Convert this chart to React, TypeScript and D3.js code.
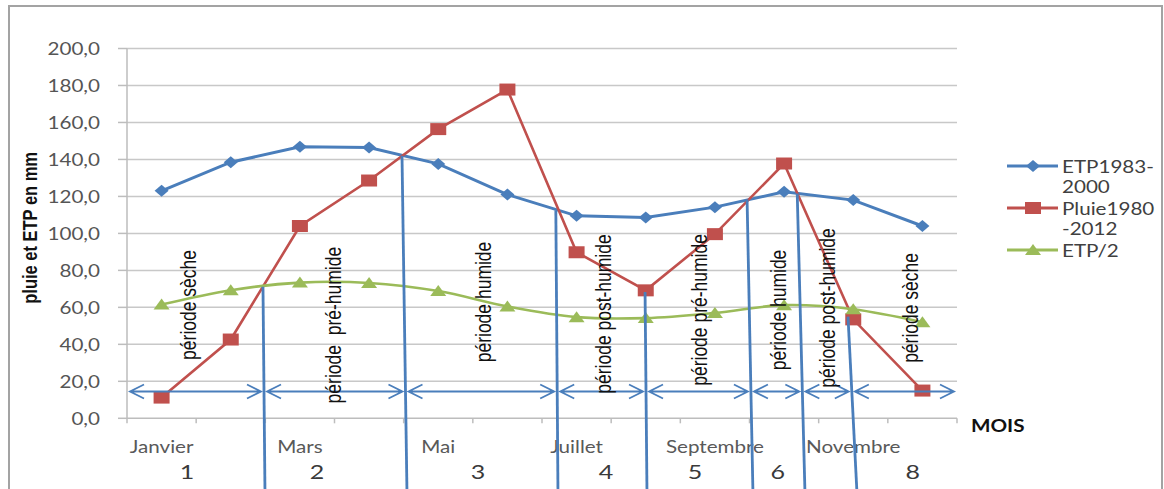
import React, { useRef, useEffect } from 'react';
import * as d3 from 'd3';

// ---------- data ----------
const months = ['Janvier', 'Février', 'Mars', 'Avril', 'Mai', 'Juin', 'Juillet', 'Août', 'Septembre', 'Octobre', 'Novembre', 'Décembre'];
const monthLabels = ['Janvier', '', 'Mars', '', 'Mai', '', 'Juillet', '', 'Septembre', '', 'Novembre', ''];

const etp = [123.0, 138.5, 146.8, 146.4, 137.6, 121.0, 109.5, 108.6, 114.2, 122.5, 118.0, 104.0];
const pluie = [11.2, 42.6, 104.0, 128.6, 156.4, 177.8, 89.8, 69.2, 99.6, 137.8, 53.5, 15.0];
const etpHalf = [61.5, 69.3, 73.4, 73.2, 68.8, 60.5, 54.7, 54.2, 57.0, 61.2, 59.0, 52.0];

const yTicks = [0, 20, 40, 60, 80, 100, 120, 140, 160, 180, 200];

// hand-drawn period dividers (month index, value where they start, month index at the bottom edge)
const dividerTopPos = [1.466, 3.476, 5.70, 6.99, 8.465, 9.19, 9.924];
const dividerTopValue = [71.2, 142.0, 112.4, 68.3, 118.3, 121.6, 55.0];
const dividerBottomPos = [1.495, 3.548, 5.731, 7.018, 8.55, 9.302, 10.054];
const arrowValue = 14.5;

const periodLabels = ['période sèche', 'période  pré-humide', 'période humide', 'période post-humide', 'période pré-humide', 'période humide', 'période post-humide', 'période sèche'];
const periodPos = [0.382, 2.478, 4.647, 6.38, 7.77, 8.91, 9.63, 10.82];
const periodMid = [61.3, 50.4, 62.9, 56.4, 58.6, 58.6, 59.7, 59.7];

const periodNumbers = ['1', '2', '3', '4', '5', '6', '8'];
const periodNumberPos = [0.367, 2.247, 4.574, 6.425, 7.712, 8.91, 10.86];

const legendLabels = [['ETP1983-', '2000'], ['Pluie1980', '-2012'], ['ETP/2']];

const BLUE = '#4A7EBB';
const RED = '#C0504D';
const GREEN = '#9BBB59';
const HFONT = 'Lato, "Open Sans", sans-serif';
const VFONT = '"Liberation Sans", Arial, sans-serif';
const SX = 1.25; // the reference is stretched horizontally

const App: React.FC = () => {
  const svgRef = useRef<SVGSVGElement>(null);

  useEffect(() => {
    if (!svgRef.current) return;
    const svg = d3.select(svgRef.current);
    svg.selectAll('*').remove();

    const W = 1164;
    const H = 489;
    const plot = { left: 127, right: 957, top: 48.5, bottom: 418.3 };

    const x = d3.scaleLinear().domain([-0.5, months.length - 0.5]).range([plot.left, plot.right]);
    const y = d3.scaleLinear().domain([0, 200]).range([plot.bottom, plot.top]);

    const hText = (
      g: d3.Selection<any, unknown, null, undefined>,
      tx: number,
      ty: number,
      txt: string,
      size: number,
      fill: string,
      anchor = 'middle',
      weight = 'normal'
    ) =>
      g
        .append('text')
        .attr('transform', `translate(${tx},${ty}) scale(${SX},1)`)
        .attr('text-anchor', anchor)
        .style('font-family', HFONT)
        .style('font-size', `${size}px`)
        .style('font-weight', weight)
        .attr('fill', fill)
        .text(txt);

    // rotated text, stretched across the glyphs like the reference
    const vText = (tx: number, ty: number, txt: string, size: number, weight = 'normal') =>
      svg
        .append('text')
        .attr('transform', `translate(${tx},${ty}) scale(${SX},1) rotate(-90)`)
        .attr('text-anchor', 'middle')
        .attr('dominant-baseline', 'central')
        .style('white-space', 'pre')
        .style('font-family', VFONT)
        .style('font-size', `${size}px`)
        .style('font-weight', weight)
        .attr('fill', '#111')
        .text(txt);

    /* ---------- frame ---------- */
    svg.append('rect').attr('width', W).attr('height', H).attr('fill', '#fff');
    svg
      .append('rect')
      .attr('x', 9)
      .attr('y', 6)
      .attr('width', 1153)
      .attr('height', 520)
      .attr('fill', '#fff')
      .attr('stroke', '#a3a3a3')
      .attr('stroke-width', 2);

    /* ---------- grid + axes ---------- */
    const grid = svg.append('g');
    grid
      .selectAll('line.grid')
      .data(yTicks.filter(t => t > 0))
      .enter()
      .append('line')
      .attr('x1', plot.left)
      .attr('x2', plot.right)
      .attr('y1', d => y(d))
      .attr('y2', d => y(d))
      .attr('stroke', '#c8c8c8')
      .attr('stroke-width', 1.5);

    grid
      .selectAll('line.ytick')
      .data(yTicks)
      .enter()
      .append('line')
      .attr('x1', plot.left - 9)
      .attr('x2', plot.left)
      .attr('y1', d => y(d))
      .attr('y2', d => y(d))
      .attr('stroke', '#bdbdbd')
      .attr('stroke-width', 1.5);

    grid
      .append('line')
      .attr('x1', plot.left)
      .attr('x2', plot.left)
      .attr('y1', y(200))
      .attr('y2', y(0))
      .attr('stroke', '#bdbdbd')
      .attr('stroke-width', 1.5);
    grid
      .append('line')
      .attr('x1', plot.left)
      .attr('x2', plot.right)
      .attr('y1', y(0))
      .attr('y2', y(0))
      .attr('stroke', '#bdbdbd')
      .attr('stroke-width', 1.5);

    grid
      .selectAll('line.xtick')
      .data(d3.range(months.length + 1))
      .enter()
      .append('line')
      .attr('x1', d => x(d - 0.5))
      .attr('x2', d => x(d - 0.5))
      .attr('y1', y(0))
      .attr('y2', y(0) + 5)
      .attr('stroke', '#bdbdbd')
      .attr('stroke-width', 1.5);

    const fmt = d3.format('.1f');
    yTicks.forEach(t => hText(svg, 100, y(t) + 6.5, fmt(t).replace('.', ','), 16.5, '#555', 'end'));

    monthLabels.forEach((m, i) => {
      if (m) hText(svg, x(i), 453, m, 16.5, '#595959');
    });

    periodNumbers.forEach((n, i) => hText(svg, x(periodNumberPos[i]), 479, n, 20, '#3a3a3a'));

    hText(svg, 971, 432, 'MOIS', 16.5, '#111', 'start', 'bold');

    vText(30, y(103), 'pluie et ETP en mm', 16.5, 'bold');

    /* ---------- series ---------- */
    const idx = d3.range(months.length);
    const straight = (vals: number[]) =>
      d3
        .line<number>()
        .x(i => x(i))
        .y(i => y(vals[i]))(idx);

    const seriesG = svg.append('g');
    seriesG
      .append('path')
      .attr('d', straight(etp))
      .attr('fill', 'none')
      .attr('stroke', BLUE)
      .attr('stroke-width', 3);
    seriesG
      .append('path')
      .attr('d', straight(pluie))
      .attr('fill', 'none')
      .attr('stroke', RED)
      .attr('stroke-width', 2.6);
    const smooth = d3
      .line<number>()
      .x(i => x(i))
      .y(i => y(etpHalf[i]))
      .curve(d3.curveCatmullRom.alpha(0.5));
    seriesG
      .append('path')
      .attr('d', smooth(idx))
      .attr('fill', 'none')
      .attr('stroke', GREEN)
      .attr('stroke-width', 2.6);

    const diamond = 'M0,-6L7,0L0,6L-7,0Z';
    const square = 'M-8,-6H8V6H-8Z';
    const triangle = 'M0,-6L8,5H-8Z';

    const markers = (vals: number[], shape: string, color: string) =>
      seriesG
        .append('g')
        .selectAll('path')
        .data(vals)
        .enter()
        .append('path')
        .attr('d', shape)
        .attr('transform', (d, i) => `translate(${x(i)},${y(d)})`)
        .attr('fill', color);
    markers(etp, diamond, BLUE);
    markers(pluie, square, RED);
    markers(etpHalf, triangle, GREEN);

    /* ---------- period dividers ---------- */
    const bottomVal = y.invert(H + 4);
    const divG = svg.append('g');
    dividerTopPos.forEach((p, i) => {
      divG
        .append('line')
        .attr('x1', x(p))
        .attr('y1', y(dividerTopValue[i]))
        .attr('x2', x(dividerBottomPos[i]))
        .attr('y2', y(bottomVal))
        .attr('stroke', BLUE)
        .attr('stroke-width', 2.8);
    });

    // x of each divider at the arrow row
    const divAtArrow = dividerTopPos.map((p, i) => {
      const t = (dividerTopValue[i] - arrowValue) / (dividerTopValue[i] - bottomVal);
      return x(p) + (x(dividerBottomPos[i]) - x(p)) * t;
    });
    const bounds = [x(-0.5), ...divAtArrow, x(months.length - 0.5)];
    const ay = y(arrowValue);
    for (let k = 0; k < bounds.length - 1; k++) {
      const a = bounds[k] + 3;
      const b = bounds[k + 1] - 3;
      const p = d3.path();
      p.moveTo(a, ay);
      p.lineTo(b, ay);
      p.moveTo(a + 14, ay - 7);
      p.lineTo(a, ay);
      p.lineTo(a + 14, ay + 7);
      p.moveTo(b - 14, ay - 7);
      p.lineTo(b, ay);
      p.lineTo(b - 14, ay + 7);
      divG
        .append('path')
        .attr('d', p.toString())
        .attr('fill', 'none')
        .attr('stroke', BLUE)
        .attr('stroke-width', 1.8);
    }

    /* ---------- period labels ---------- */
    periodLabels.forEach((lab, i) => {
      vText(x(periodPos[i]), y(periodMid[i]), lab, 17.5);
    });

    /* ---------- legend ---------- */
    const legendColors = [BLUE, RED, GREEN];
    const legendShapes = [diamond, square, triangle];
    const legendRows = [166, 208, 250];
    legendLabels.forEach((lines, i) => {
      const g = svg.append('g').attr('transform', `translate(0,${legendRows[i]})`);
      g.append('line')
        .attr('x1', 1007)
        .attr('x2', 1058)
        .attr('stroke', legendColors[i])
        .attr('stroke-width', 3);
      g.append('path')
        .attr('d', legendShapes[i])
        .attr('transform', 'translate(1033,0)')
        .attr('fill', legendColors[i]);
      lines.forEach((l, j) => hText(g, 1062, 6.5 + j * 20.5, l, 16.5, '#404040', 'start'));
    });
  }, []);

  return (
    <svg
      ref={svgRef}
      width={1164}
      height={489}
      style={{ position: 'absolute', left: 0, top: 0, background: '#fff' }}
    />
  );
};

export default App;
